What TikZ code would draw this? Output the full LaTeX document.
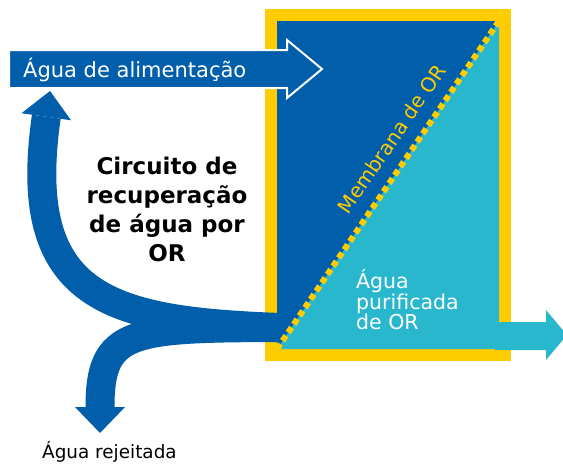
\documentclass[tikz,border=0pt]{standalone}
\usepackage{fontspec}
\setmainfont{DejaVu Sans}
\usetikzlibrary{arrows.meta}
\definecolor{azulOR}{RGB}{0,94,170}
\definecolor{cianoOR}{RGB}{41,183,206}
\definecolor{amareloOR}{RGB}{255,204,0}

\begin{document}
\begin{tikzpicture}[x=1pt,y=-1pt,
                fluxo/.style={draw=azulOR,line width=29pt,-{Triangle[length=26pt,width=50pt,line width=0pt]}},
                rotulo/.style={inner sep=0pt},
                membranaOR/.style={amareloOR,line width=6pt,dash pattern=on 6pt off 4pt}]
                \useasboundingbox (0,0) rectangle (563,464);
                \fill[amareloOR] (265,9) rectangle (511,361);
                \fill[azulOR] (277,21) rectangle (499,349);
                \coordinate (entrada) at (280,327.5);
                \coordinate (retorno) at (50,91);
                \coordinate (rejeito) at (100,433);
                \coordinate (canto) at (277,349);
                \coordinate (topo) at (499,21);
                \draw[fluxo] (entrada) .. controls (110,321) and (20,300) .. (retorno);
                \draw[fluxo] (entrada) .. controls (130,328) and (100,330) .. (rejeito);
                \fill[cianoOR] (canto) -- (topo) -- (499,349) -- cycle;
                \draw[membranaOR] (canto) -- (topo);
                \fill[cianoOR] (495,322) -- (546,322) -- (546,310) -- (567,335) -- (546,360) -- (546,350) -- (495,350) -- cycle;
                \filldraw[fill=azulOR,draw=white,line width=2pt] (9,50) -- (287,50) -- (287,40) -- (322,69) -- (287,98) -- (287,88) -- (9,88) -- cycle;
                \node[rotulo,text=white,anchor=base west,font=\fontsize{21}{21}\selectfont] (alimentacao) at (23,77) {Água de alimentação};
                \node[rotulo,align=center,anchor=north,font=\bfseries\fontsize{23}{29}\selectfont] (circuito) at (167,157) {Circuito de\\recuperação\\de água por\\OR};
                \node[rotulo,text=amareloOR,rotate=55.8,anchor=base,font=\fontsize{20}{20}\selectfont] (membrana) at (398,143) {Membrana de OR};
                \node[rotulo,text=white,align=left,anchor=north west,font=\fontsize{20.5}{20.8}\selectfont] (purificada) at (356,269) {Água\\purificada\\de OR};
                \node[rotulo,anchor=base west,font=\fontsize{18.4}{18.4}\selectfont] (rejeitada) at (42,458) {Água rejeitada};
\end{tikzpicture}
\end{document}
